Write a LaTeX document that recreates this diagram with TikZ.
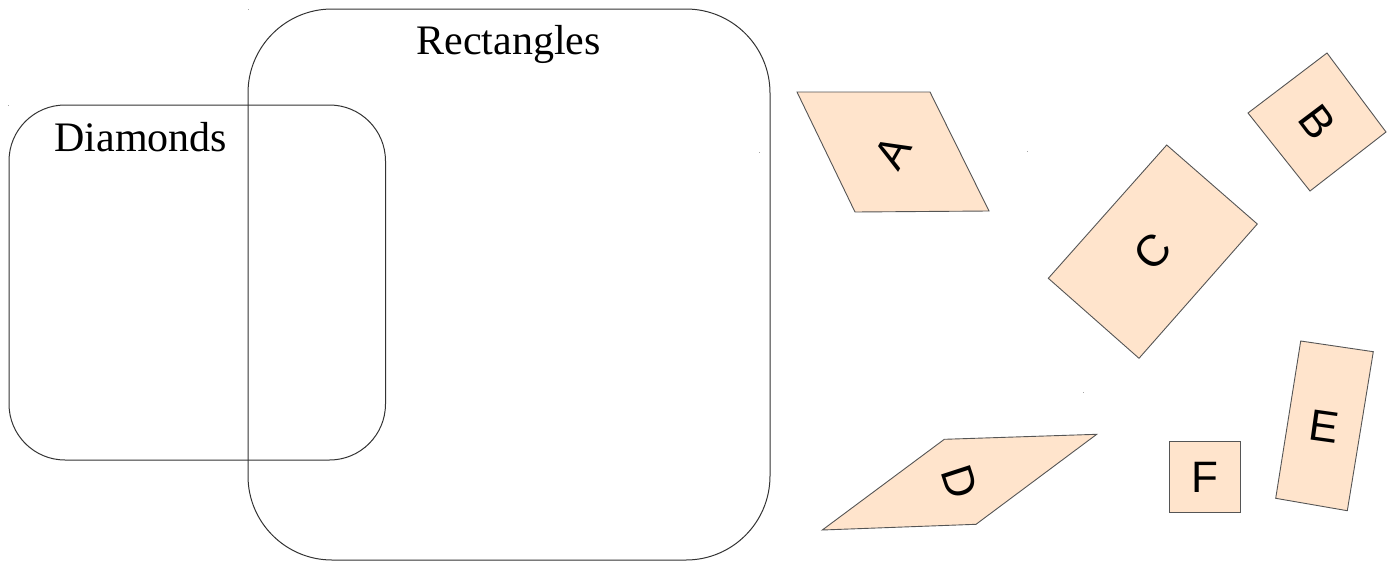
\documentclass[tikz,border=0pt]{standalone}
\usepackage{fontspec}
\setmainfont{Liberation Serif}
\newfontfamily\lettersans{Liberation Sans}
\definecolor{peach}{HTML}{FFE4CC}
\definecolor{edgegray}{HTML}{555555}
\definecolor{setline}{HTML}{333333}
\tikzset{
  setbox/.style={draw=setline, line width=1pt},
  piece/.style={draw=edgegray, fill=peach, line width=0.9pt, line join=miter},
  setlabel/.style={font=\fontsize{42}{42}\selectfont, anchor=base, inner sep=0pt},
  letter/.style={font=\lettersans\fontsize{44}{44}\selectfont, inner sep=0pt},
  speck/.style={fill=gray!70, draw=none}
}
\begin{document}
\begin{tikzpicture}[x=1pt, y=-1pt]
\useasboundingbox (0,0) rectangle (1389,562);
% set outlines
\draw[setbox, rounded corners=56pt] (9,105) rectangle (385.5,460);
\draw[setbox, rounded corners=84pt] (248,9) rectangle (770,560);
\node[setlabel] (rectlabel) at (508.5,54) {Rectangles};
\node[setlabel] (diamlabel) at (141,151.5) {Diamonds};
% pieces
\draw[piece] (797,92) -- (930,92) -- (989,211) -- (855,212) -- cycle;
\node[letter, rotate=60] (A) at (893,152.5) {A};
\draw[piece] (1327,53) -- (1386,132) -- (1310,191) -- (1248,113) -- cycle;
\node[letter, rotate=-53] (B) at (1317.5,122) {B};
\draw[piece] (1166.7,145) -- (1257.3,224) -- (1139,358.3) -- (1048.3,278.3) -- cycle;
\node[letter, rotate=46] (C) at (1153,251.5) {C};
\draw[piece] (944.3,439.3) -- (1096.7,434.3) -- (976,524.3) -- (822.3,530) -- cycle;
\node[letter, rotate=-72] (D) at (960,482) {D};
\draw[piece] (1300.7,341) -- (1373.3,351.7) -- (1347.3,510.7) -- (1275.7,498.3) -- cycle;
\node[letter, rotate=-8] (E) at (1324,427) {E};
\draw[piece] (1169,441.7) rectangle (1240,512.3);
\node[letter] (F) at (1204.5,477) {F};
% tiny specks
\fill[speck] (247.5,8.5) rectangle ++(1.2,1.2);
\fill[speck] (8,104.5) rectangle ++(1.2,1.2);
\fill[speck] (759,151.5) rectangle ++(1.2,1.2);
\fill[speck] (1026.5,150.5) rectangle ++(1.2,1.2);
\fill[speck] (1082.5,391.5) rectangle ++(1.2,1.2);
\end{tikzpicture}
\end{document}
